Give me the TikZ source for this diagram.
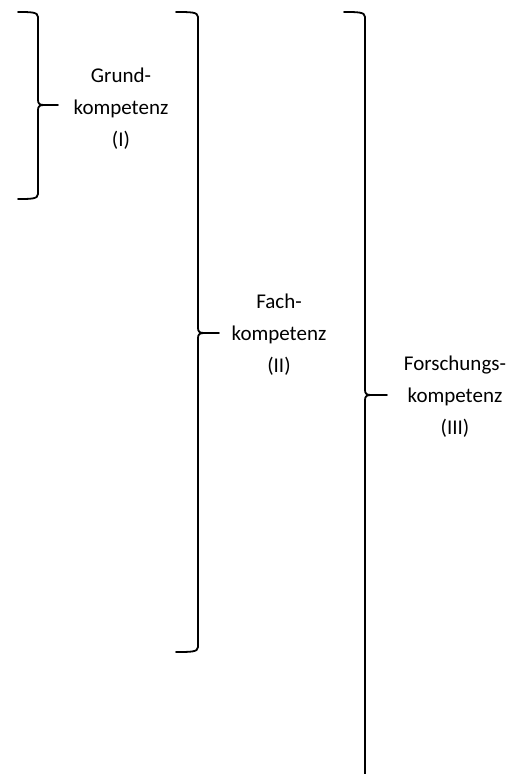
\documentclass[tikz,border=0pt]{standalone}
\usepackage{fontspec}
\setmainfont{Carlito}
% right curly brace: #1 left end x, #2 spine x, #3 top y, #4 tip y, #5 bottom y, #6 tip end x
\newcommand\kbrace[6]{%
  \draw[bracepath] (#1,#3) .. controls (#2-7,#3) and (#2,#3) .. (#2,#3+5)
    -- (#2,#4-5) .. controls (#2,#4-1) and (#2+2,#4) .. (#2+6,#4) -- (#6,#4)
    (#2+6,#4) .. controls (#2+2,#4) and (#2,#4+1) .. (#2,#4+5)
    -- (#2,#5-5) .. controls (#2,#5) and (#2-7,#5) .. (#1,#5);}
\newcommand\kbraceopen[6]{%
  \draw[bracepath] (#1,#3) .. controls (#2-7,#3) and (#2,#3) .. (#2,#3+5)
    -- (#2,#4-5) .. controls (#2,#4-1) and (#2+2,#4) .. (#2+6,#4) -- (#6,#4)
    (#2+6,#4) .. controls (#2+2,#4) and (#2,#4+1) .. (#2,#4+5)
    -- (#2,#5);}
\begin{document}
\begin{tikzpicture}[x=1pt,y=-1pt,
  bracepath/.style={line width=1.8pt, line join=round, line cap=round},
  lbl/.style={align=center, font=\fontsize{21}{32}\selectfont, inner sep=0pt}]
\useasboundingbox (0,0) rectangle (522,774);

% level I
\kbrace{18}{38}{12}{105}{199}{58}
\node[lbl] (grund) at (121,109) {Grund-\\kompetenz\\(I)};

% level II
\kbrace{176}{198}{12}{333}{652}{219}
\node[lbl] (fach) at (279,335) {Fach-\\kompetenz\\(II)};

% level III
\kbraceopen{344}{365}{12}{395}{774}{387}
\node[lbl] (forschung) at (455,397) {Forschungs-\\kompetenz\\(III)};
\end{tikzpicture}
\end{document}
